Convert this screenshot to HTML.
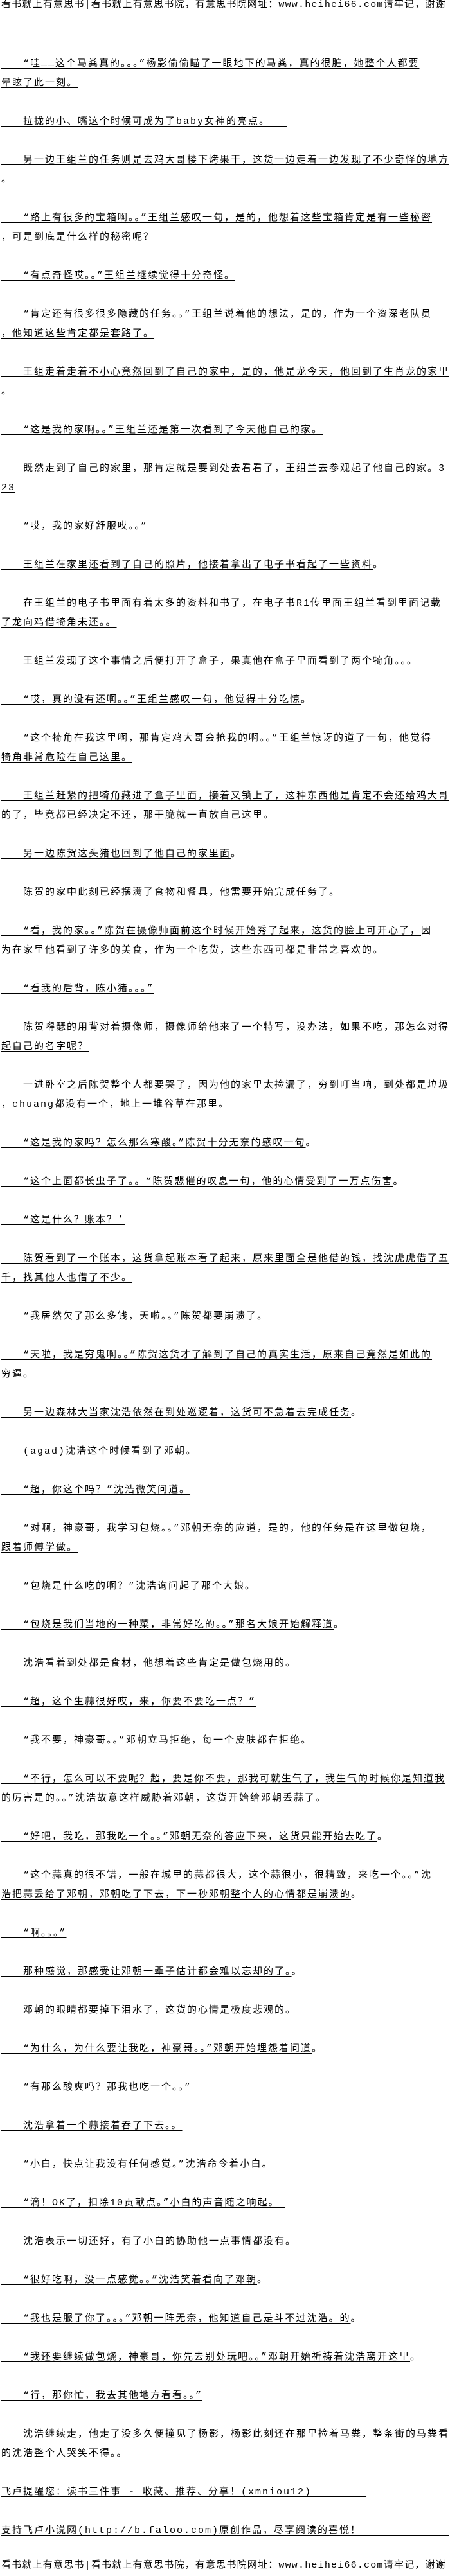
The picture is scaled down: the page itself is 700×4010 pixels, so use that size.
<!DOCTYPE html>
<html><head><meta charset="utf-8">
<style>
html,body{margin:0;padding:0;background:#fff;}
body{width:700px;height:4010px;position:relative;overflow:hidden;
font-family:"Liberation Mono","Noto Sans CJK SC","WenQuanYi Zen Hei",monospace;font-size:15px;color:#000;}
.hd{position:absolute;left:2px;white-space:nowrap;line-height:16px;height:16px;letter-spacing:1.2px;}
#flow{position:absolute;left:2px;top:85px;width:698px;}
#flow div{height:30px;line-height:30px;white-space:nowrap;overflow:visible;letter-spacing:2px;}
#flow div span{text-decoration:underline;text-decoration-thickness:1px;text-underline-offset:3px;}
</style></head><body>
<div class="hd" style="top:0">看书就上有意思书|看书就上有意思书院，有意思书院网址：www.heihei66.com请牢记，谢谢</div>
<div id="flow">
<div><span>　　“哇……这个马粪真的。。。”杨影偷偷瞄了一眼地下的马粪，真的很脏，她整个人都要</span></div>
<div><span>晕眩了此一刻。</span></div>
<div></div>
<div><span>　　拉拢的小、嘴这个时候可成为了baby女神的亮点。　　</span></div>
<div></div>
<div><span>　　另一边王组兰的任务则是去鸡大哥楼下烤果干，这货一边走着一边发现了不少奇怪的地方</span></div>
<div><span>。</span></div>
<div></div>
<div><span>　　“路上有很多的宝箱啊。。”王组兰感叹一句，是的，他想着这些宝箱肯定是有一些秘密</span></div>
<div><span>，可是到底是什么样的秘密呢？</span></div>
<div></div>
<div><span>　　“有点奇怪哎。。”王组兰继续觉得十分奇怪。</span></div>
<div></div>
<div><span>　　“肯定还有很多很多隐藏的任务。。”王组兰说着他的想法，是的，作为一个资深老队员</span></div>
<div><span>，他知道这些肯定都是套路了。</span></div>
<div></div>
<div><span>　　王组走着走着不小心竟然回到了自己的家中，是的，他是龙今天，他回到了生肖龙的家里</span></div>
<div><span>。</span></div>
<div></div>
<div><span>　　“这是我的家啊。。”王组兰还是第一次看到了今天他自己的家。</span></div>
<div></div>
<div><span>　　既然走到了自己的家里，那肯定就是要到处去看看了，王组兰去参观起了他自己的家。</span>3</div>
<div><span>23 </span></div>
<div></div>
<div><span>　　“哎，我的家好舒服哎。。”</span></div>
<div></div>
<div><span>　　王组兰在家里还看到了自己的照片，他接着拿出了电子书看起了一些资料</span>。</div>
<div></div>
<div><span>　　在王组兰的电子书里面有着太多的资料和书了，在电子书R1传里面王组兰看到里面记载</span></div>
<div><span>了龙向鸡借犄角未还。。</span></div>
<div></div>
<div><span>　　王组兰发现了这个事情之后便打开了盒子，果真他在盒子里面看到了两个犄角。。</span>。</div>
<div></div>
<div><span>　　“哎，真的没有还啊。。”王组兰感叹一句，他觉得十分吃惊</span>。</div>
<div></div>
<div><span>　　“这个犄角在我这里啊，那肯定鸡大哥会抢我的啊。。”王组兰惊讶的道了一句，他觉得</span></div>
<div><span>犄角非常危险在自己这里。</span></div>
<div></div>
<div><span>　　王组兰赶紧的把犄角藏进了盒子里面，接着又锁上了，这种东西他是肯定不会还给鸡大哥</span></div>
<div><span>的了，毕竟都已经决定不还，那干脆就一直放自己这里</span>。</div>
<div></div>
<div><span>　　另一边陈贺这头猪也回到了他自己的家里面</span>。</div>
<div></div>
<div><span>　　陈贺的家中此刻已经摆满了食物和餐具，他需要开始完成任务了</span>。</div>
<div></div>
<div><span>　　“看，我的家。。”陈贺在摄像师面前这个时候开始秀了起来，这货的脸上可开心了，</span>因</div>
<div><span>为在家里他看到了许多的美食，作为一个吃货，这些东西可都是非常之喜欢的</span>。</div>
<div></div>
<div><span>　　“看我的后背，陈小猪。。。”</span></div>
<div></div>
<div><span>　　陈贺嘚瑟的用背对着摄像师，摄像师给他来了一个特写，没办法，如果不吃，那怎么对得</span></div>
<div><span>起自己的名字呢？</span></div>
<div></div>
<div><span>　　一进卧室之后陈贺整个人都要哭了，因为他的家里太捡漏了，穷到叮当响，到处都是垃圾</span></div>
<div><span>，chuang都没有一个，地上一堆谷草在那里。　　</span></div>
<div></div>
<div><span>　　“这是我的家吗？怎么那么寒酸。”陈贺十分无奈的感叹一句</span>。</div>
<div></div>
<div><span>　　“这个上面都长虫子了。。“陈贺悲催的叹息一句，他的心情受到了一万点伤害</span>。</div>
<div></div>
<div><span>　　“这是什么？账本？’</span></div>
<div></div>
<div><span>　　陈贺看到了一个账本，这货拿起账本看了起来，原来里面全是他借的钱，找沈虎虎借了五</span></div>
<div><span>千，找其他人也借了不少。</span></div>
<div></div>
<div><span>　　“我居然欠了那么多钱，天啦。。”陈贺都要崩溃了</span>。</div>
<div></div>
<div><span>　　“天啦，我是穷鬼啊。。”陈贺这货才了解到了自己的真实生活，原来自己竟然是如此的</span></div>
<div><span>穷逼。</span></div>
<div></div>
<div><span>　　另一边森林大当家沈浩依然在到处巡逻着，这货可不急着去完成任务</span>。</div>
<div></div>
<div><span>　　(agad)沈浩这个时候看到了邓朝。　　</span></div>
<div></div>
<div><span>　　“超，你这个吗？”沈浩微笑问道。</span></div>
<div></div>
<div><span>　　“对啊，神豪哥，我学习包烧。。”邓朝无奈的应道，是的，他的任务是在这里做包烧</span>，</div>
<div><span>跟着师傅学做。</span></div>
<div></div>
<div><span>　　“包烧是什么吃的啊？”沈浩询问起了那个大娘</span>。</div>
<div></div>
<div><span>　　“包烧是我们当地的一种菜，非常好吃的。。”那名大娘开始解释道</span>。</div>
<div></div>
<div><span>　　沈浩看着到处都是食材，他想着这些肯定是做包烧用的</span>。</div>
<div></div>
<div><span>　　“超，这个生蒜很好哎，来，你要不要吃一点？”</span></div>
<div></div>
<div><span>　　“我不要，神豪哥。。”邓朝立马拒绝，每一个皮肤都在拒绝</span>。</div>
<div></div>
<div><span>　　“不行，怎么可以不要呢？超，要是你不要，那我可就生气了，我生气的时候你是知道我</span></div>
<div><span>的厉害是的。。”沈浩故意这样威胁着邓朝，这货开始给邓朝丢蒜了</span>。</div>
<div></div>
<div><span>　　“好吧，我吃，那我吃一个。。”邓朝无奈的答应下来，这货只能开始去吃了</span>。</div>
<div></div>
<div><span>　　“这个蒜真的很不错，一般在城里的蒜都很大，这个蒜很小，很精致，来吃一个。。”</span>沈</div>
<div><span>浩把蒜丢给了邓朝，邓朝吃了下去，下一秒邓朝整个人的心情都是崩溃的</span>。</div>
<div></div>
<div><span>　　“啊。。。”</span></div>
<div></div>
<div><span>　　那种感觉，那感受让邓朝一辈子估计都会难以忘却的了。</span>。</div>
<div></div>
<div><span>　　邓朝的眼睛都要掉下泪水了，这货的心情是极度悲观的</span>。</div>
<div></div>
<div><span>　　“为什么，为什么要让我吃，神豪哥。。”邓朝开始埋怨着问道</span>。</div>
<div></div>
<div><span>　　“有那么酸爽吗？那我也吃一个。。”</span></div>
<div></div>
<div><span>　　沈浩拿着一个蒜接着吞了下去。。</span></div>
<div></div>
<div><span>　　“小白，快点让我没有任何感觉。”沈浩命令着小白</span>。</div>
<div></div>
<div><span>　　“滴！OK了，扣除10贡献点。”小白的声音随之响起。　</span></div>
<div></div>
<div><span>　　沈浩表示一切还好，有了小白的协助他一点事情都没有</span>。</div>
<div></div>
<div><span>　　“很好吃啊，没一点感觉。。”沈浩笑着看向了邓朝</span>。</div>
<div></div>
<div><span>　　“我也是服了你了。。。”邓朝一阵无奈，他知道自己是斗不过沈浩。的</span>。</div>
<div></div>
<div><span>　　“我还要继续做包烧，神豪哥，你先去别处玩吧。。”邓朝开始祈祷着沈浩离开这里</span>。</div>
<div></div>
<div><span>　　“行，那你忙，我去其他地方看看。。”</span></div>
<div></div>
<div><span>　　沈浩继续走，他走了没多久便撞见了杨影，杨影此刻还在那里捡着马粪，整条街的马粪看</span></div>
<div><span>的沈浩整个人哭笑不得。。 </span></div>
<div></div>
<div><span>飞卢提醒您：读书三件事 - 收藏、推荐、分享！(xmniou12)　　　　　</span></div>
<div></div>
<div><span>支持飞卢小说网(http://b.faloo.com)原创作品，尽享阅读的喜悦！　　　　　　　　</span></div>
</div>
<div class="hd" style="top:3986px">看书就上有意思书|看书就上有意思书院，有意思书院网址：www.heihei66.com请牢记，谢谢</div>
</body></html>
